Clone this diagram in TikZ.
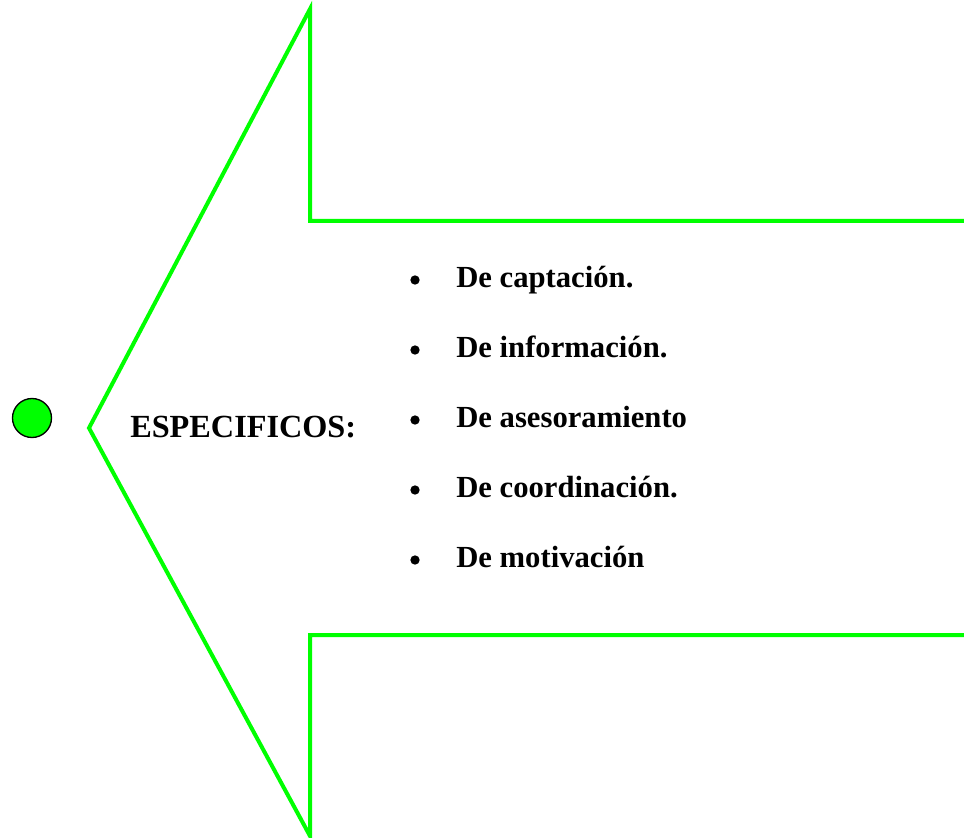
\documentclass[tikz,border=0pt]{standalone}
\usepackage{fontspec}
\setmainfont{Liberation Serif}
\definecolor{brightgreen}{HTML}{00FF00}
\begin{document}
\begin{tikzpicture}[x=0.75pt,y=-0.75pt,
  outline/.style={draw=brightgreen,line width=3pt,line join=miter},
  lbl/.style={font=\fontsize{23}{27}\selectfont\bfseries,inner sep=0pt,anchor=base west},
  dot/.style={circle,fill=black,minimum size=7pt,inner sep=0pt}]
\useasboundingbox (0,0) rectangle (964,838);
\node[circle,draw=black,fill=brightgreen,line width=1pt,minimum size=39*0.75pt,inner sep=0pt] (c) at (32,418) {};
\coordinate (e1) at (966,221);
\coordinate (c1) at (310,221);
\coordinate (t1) at (310,9);
\coordinate (tip) at (89,428);
\coordinate (t2) at (310,836);
\coordinate (c2) at (310,635);
\coordinate (e2) at (966,635);
\draw[outline] (e1) -- (c1) -- (t1) -- (tip) -- (t2) -- (c2) -- (e2);
\node[lbl,font=\fontsize{24.2}{28}\selectfont\bfseries] (spec) at (130,437.5) {ESPECIFICOS:};
\foreach \t [count=\i] in {De captación.,De información.,De asesoramiento,De coordinación.,De motivación}{
  \node[lbl] (l\i) at (456,{287+70*(\i-1)}) {\t};
  \node[dot] (b\i) at (415,{280+70*(\i-1)}) {};
}
\end{tikzpicture}
\end{document}
